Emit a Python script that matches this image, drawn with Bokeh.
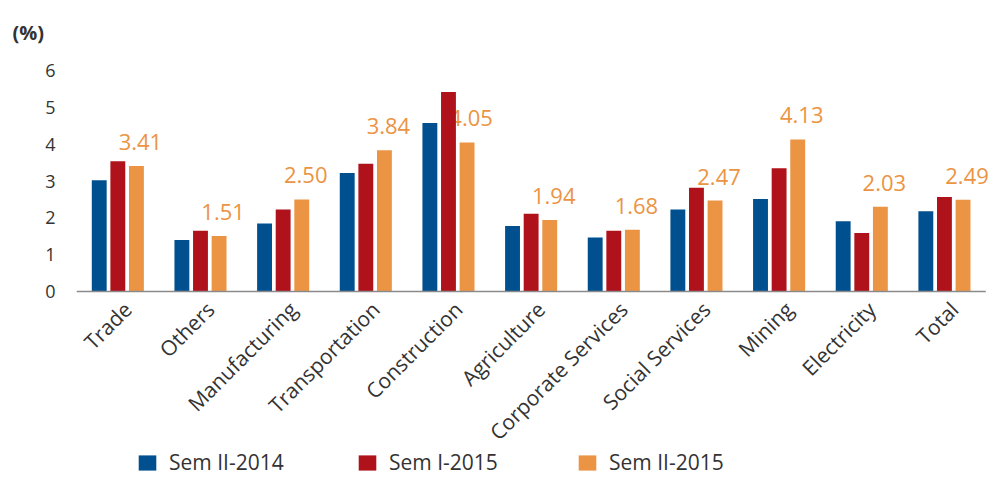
import math
from bokeh.plotting import figure
from bokeh.models import (ColumnDataSource, FixedTicker, Legend, LegendItem,
                          Range1d, Title)
from bokeh.transform import dodge
from bokeh.core.properties import value
from bokeh.embed import file_html
from bokeh.resources import INLINE

# ---- data ----
categories = ["Trade", "Others", "Manufacturing", "Transportation", "Construction",
              "Agriculture", "Corporate Services", "Social Services", "Mining",
              "Electricity", "Total"]
sem2_2014 = [3.02, 1.40, 1.85, 3.22, 4.58, 1.78, 1.47, 2.23, 2.51, 1.91, 2.18]
sem1_2015 = [3.54, 1.65, 2.23, 3.47, 5.42, 2.11, 1.65, 2.82, 3.35, 1.59, 2.57]
sem2_2015 = [3.41, 1.51, 2.50, 3.84, 4.05, 1.94, 1.68, 2.47, 4.13, 2.30, 2.49]
value_labels = ["3.41", "1.51", "2.50", "3.84", "4.05", "1.94", "1.68", "2.47",
                "4.13", "2.03", "2.49"]
series_names = ["Sem II-2014", "Sem I-2015", "Sem II-2015"]
y_ticks = [0, 1, 2, 3, 4, 5, 6]
unit_label = "(%)"

# ---- styling ----
BLUE = "#00508F"
RED = "#B0121B"
ORANGE = "#EB9444"
TEXT = "#333333"
AXIS = "#8A8A8A"
FONT = "Open Sans"
LABEL_SHIFT = 0.12   # category labels sit slightly right of the group centre
RIGHT_ROOM = 0.142   # room right of the last group for its value label

n = len(categories)
idx = list(range(n))
source = ColumnDataSource(dict(idx=idx, cat=categories, a=sem2_2014,
                               b=sem1_2015, c=sem2_2015, lab=value_labels))

# the frame reaches down to the bottom of the canvas so that the rotated
# category names and the legend can live below the zero line
p = figure(x_range=Range1d(-0.5, n - 0.5 + RIGHT_ROOM),
           y_range=Range1d(-5.05, 6.22),
           x_axis_type=None,
           width=997, height=477, output_backend="svg", toolbar_location=None,
           min_border_left=76, min_border_right=0, min_border_top=60,
           min_border_bottom=0)
p.outline_line_color = None
p.xgrid.grid_line_color = None
p.ygrid.grid_line_color = None
p.background_fill_color = "white"
p.border_fill_color = "white"

# value labels first, so the bars can overlap them as in the reference
p.text(x=dodge("idx", 0.225), y="c", text="lab", source=source,
       text_font=value(FONT), text_font_size="22px", text_color=ORANGE,
       text_align="center", text_baseline="middle", x_offset=4, y_offset=-24)

w = 0.18
r1 = p.vbar(x=dodge("idx", -0.225), top="a", bottom=0, width=w,
            source=source, fill_color=BLUE, line_color=None)
r2 = p.vbar(x=dodge("idx", 0.0), top="b", bottom=0, width=w,
            source=source, fill_color=RED, line_color=None)
r3 = p.vbar(x=dodge("idx", 0.225), top="c", bottom=0, width=w,
            source=source, fill_color=ORANGE, line_color=None)

# baseline (x axis line) under the category groups
p.segment(x0=-0.5, x1=n - 0.5, y0=0, y1=0, line_color=AXIS, line_width=1.5)

# category names, rotated, hanging under the baseline
p.text(x=dodge("idx", LABEL_SHIFT), y=0, text="cat", source=source,
       angle=math.pi / 4, text_font=value(FONT), text_font_size="21px",
       text_color=TEXT, text_align="right", text_baseline="middle",
       y_offset=14)

# y axis
p.yaxis.ticker = FixedTicker(ticks=y_ticks)
p.yaxis.axis_line_color = None
p.yaxis.major_tick_line_color = None
p.yaxis.minor_tick_line_color = None
p.yaxis.major_label_standoff = 15
p.yaxis.major_label_text_font = FONT
p.yaxis.major_label_text_font_size = "18px"
p.yaxis.major_label_text_color = TEXT

# unit label above the y axis
p.add_layout(Title(text=unit_label, align="left", offset=-64, standoff=33,
                   text_font=FONT, text_font_style="bold",
                   text_font_size="20px", text_color=TEXT), "above")

legend = Legend(items=[LegendItem(label=series_names[0], renderers=[r1]),
                       LegendItem(label=series_names[1], renderers=[r2]),
                       LegendItem(label=series_names[2], renderers=[r3])],
                orientation="horizontal", location=(60, 1),
                glyph_width=22, glyph_height=19, label_standoff=11,
                label_width=187, spacing=0,
                padding=0, margin=0, border_line_color=None,
                background_fill_alpha=0,
                label_text_font=FONT, label_text_font_size="21px",
                label_text_color=TEXT)
p.add_layout(legend, "center")

open("out.html", "w").write(file_html(p, INLINE))
